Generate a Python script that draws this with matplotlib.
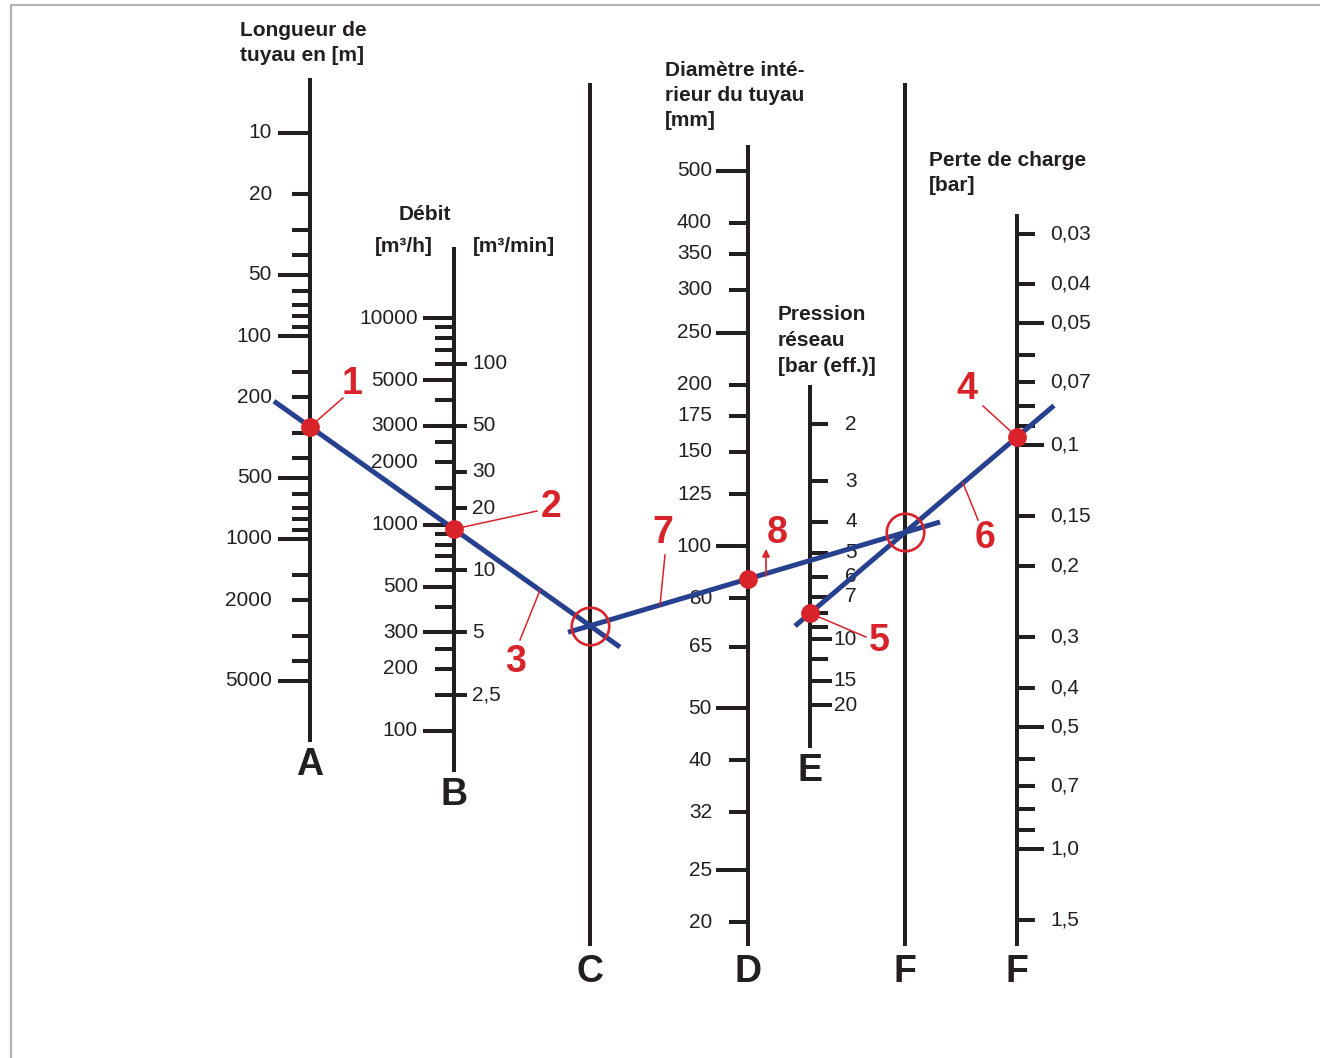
import numpy as np
import matplotlib
matplotlib.use("Agg")
import matplotlib.pyplot as plt

plt.rcParams['font.family'] = ['Liberation Sans', 'DejaVu Sans']

# ---------------- data ----------------
# A : pipe length [m]
A_ticks = [10, 20, 30, 40, 50, 60, 70, 80, 90, 100, 150, 200, 300, 400, 500,
           600, 700, 800, 900, 1000, 1500, 2000, 3000, 4000, 5000]
A_labels = [10, 20, 50, 100, 200, 500, 1000, 2000, 5000]
A_long = [10, 50, 100, 500, 1000, 5000]

# B : flow [m3/h] (left) and [m3/min] (right)
B_h_ticks = [100, 150, 200, 250, 300, 400, 500, 600, 700, 800, 900, 1000, 1500,
             2000, 2500, 3000, 4000, 5000, 6000, 7000, 8000, 9000, 10000]
B_h_labels = [100, 200, 300, 500, 1000, 2000, 3000, 5000, 10000]
B_h_long = [100, 300, 500, 1000, 3000, 5000, 10000]
B_min_labels = [2.5, 5, 10, 20, 30, 50, 100]
B_min_text = ['2,5', '5', '10', '20', '30', '50', '100']

# D : inner pipe diameter [mm]
D_ticks = [20, 25, 32, 40, 50, 65, 80, 100, 125, 150, 175, 200, 250, 300, 350, 400, 500]
D_long = [25, 50, 100, 250, 500]

# E : network pressure [bar (eff.)]
E_ticks = [2, 3, 4, 5, 6, 7, 8, 9, 10, 12, 15, 20]
E_labels = [2, 3, 4, 5, 6, 7, 10, 15, 20]

# F : pressure drop [bar]
F_ticks = [0.03, 0.04, 0.05, 0.06, 0.07, 0.08, 0.09, 0.1, 0.15, 0.2, 0.3, 0.4,
           0.5, 0.6, 0.7, 0.8, 0.9, 1.0, 1.5]
F_labels = [0.03, 0.04, 0.05, 0.07, 0.1, 0.15, 0.2, 0.3, 0.4, 0.5, 0.7, 1.0, 1.5]
F_text = ['0,03', '0,04', '0,05', '0,07', '0,1', '0,15', '0,2', '0,3', '0,4',
          '0,5', '0,7', '1,0', '1,5']
F_long = [0.05, 0.1, 0.5, 1.0]

# worked example
ex_length = 280     # m
ex_flow = 950       # m3/h
ex_diam = 87        # mm
ex_press = 8        # bar (eff.)

# ---------------- scale geometry (pixel frame) ----------------
xA, xB, xC, xD, xE, xF1, xF2 = 310, 454, 590, 748, 810, 905, 1017

def yA(v):
    return 133 + 203 * (np.log10(v) - 1)

def yB(v):
    return 731 - 206.5 * (np.log10(v) - 2)

def yD(v):
    return 170.7 + 537.5 * (np.log10(500) - np.log10(v))

def yE(v):
    u = np.log10(np.asarray(v, dtype=float) + 1)
    return 156.8 + 643.4 * u - 173.0 * u ** 2

def yF(v):
    return 848.6 + 403.9 * np.log10(v)

INK = '#231f20'
BLUE = '#27408f'
RED = '#d9232b'
LW = 2.9
FS = 15
HFS = 15

fig = plt.figure(figsize=(13.2, 10.58), dpi=100)
ax = fig.add_axes([0, 0, 1, 1])
ax.set_xlim(0, 1320)
ax.set_ylim(1058, 0)
ax.axis('off')

# frame
ax.plot([11, 11, 1320], [1058, 5, 5], color='#b3b3b3', lw=1.6, solid_capstyle='butt')

def vaxis(x, y0, y1, letter, ly):
    ax.plot([x, x], [y0, y1], color=INK, lw=LW, solid_capstyle='butt', zorder=2)
    ax.text(x, ly, letter, ha='center', va='center', fontsize=27,
            fontweight='bold', color=INK)

def ticks(x, ys, x0, x1):
    for y in np.atleast_1d(ys):
        ax.plot([x0, x1], [y, y], color=INK, lw=LW, solid_capstyle='butt', zorder=2)

def labels(xs, ys, texts, ha):
    for y, t in zip(ys, texts):
        ax.text(xs, y, t, ha=ha, va='center', fontsize=FS, color=INK, zorder=2)

def header(x, y, lines, ha='left', step=25.5):
    for i, line in enumerate(lines):
        ax.text(x, y + i * step, line, ha=ha, va='center', fontsize=HFS,
                fontweight='bold', color=INK)

# ---- A ----
vaxis(xA, 78, 742, 'A', 765)
for v in A_ticks:
    ticks(xA, yA(v), xA - (32 if v in A_long else 18), xA)
labels(272, yA(np.array(A_labels)), [str(v) for v in A_labels], 'right')
header(240, 30, ['Longueur de', 'tuyau en [m]'])

# ---- B ----
vaxis(xB, 247, 772, 'B', 795)
for v in B_h_ticks:
    ticks(xB, yB(v), xB - (31 if v in B_h_long else 19), xB)
for v in B_min_labels:
    ticks(xB, yB(v * 60), xB, xB + 13)
labels(418, yB(np.array(B_h_labels)), [str(v) for v in B_h_labels], 'right')
labels(472, yB(np.array(B_min_labels) * 60), B_min_text, 'left')
header(425, 214, ['Débit'], ha='center')
header(404, 246, ['[m³/h]'], ha='center')
header(514, 246, ['[m³/min]'], ha='center')

# ---- C ----
vaxis(xC, 83, 946, 'C', 972)

# ---- D ----
vaxis(xD, 145, 946, 'D', 972)
for v in D_ticks:
    ticks(xD, yD(v), xD - (32 if v in D_long else 19), xD)
labels(712, yD(np.array(D_ticks)), [str(v) for v in D_ticks], 'right')
header(665, 70, ['Diamètre inté-', 'rieur du tuyau', '[mm]'])

# ---- E ----
vaxis(xE, 385, 748, 'E', 771)
for v in E_ticks:
    ticks(xE, yE(v), xE, xE + (22 if v in (10, 15, 20) else 18))
labels(857, yE(np.array(E_labels)), [str(v) for v in E_labels], 'right')
header(778, 315, ['Pression', 'réseau', '[bar (eff.)]'])

# ---- F (reference) ----
vaxis(xF1, 83, 946, 'F', 972)

# ---- F (pressure drop) ----
vaxis(xF2, 214, 946, 'F', 972)
for v in F_ticks:
    ticks(xF2, yF(v), xF2, xF2 + (27 if v in F_long else 18))
labels(1050, yF(np.array(F_labels)), F_text, 'left')
header(929, 160, ['Perte de charge', '[bar]'])

# ---------------- worked example ----------------
pA = np.array([xA, yA(ex_length)])
pB = np.array([xB, yB(ex_flow)])
s1 = (pB[1] - pA[1]) / (pB[0] - pA[0])
pC = np.array([xC, pB[1] + s1 * (xC - xB)])
pD = np.array([xD, yD(ex_diam)])
s2 = (pD[1] - pC[1]) / (pD[0] - pC[0])
pF1 = np.array([xF1, pD[1] + s2 * (xF1 - xD)])
pE = np.array([xE, yE(ex_press)])
s3 = (pF1[1] - pE[1]) / (pF1[0] - pE[0])
pF2 = np.array([xF2, pF1[1] + s3 * (xF2 - xF1)])

def seg(p, s, xa, xb):
    return [xa, xb], [p[1] + s * (xa - p[0]), p[1] + s * (xb - p[0])]

blw = 3.6
xs, ys = seg(pA, s1, xA - 36, xC + 30)
ax.plot(xs, ys, color=BLUE, lw=blw, solid_capstyle='butt', zorder=4)
xs, ys = seg(pC, s2, xC - 22, xF1 + 35)
ax.plot(xs, ys, color=BLUE, lw=blw, solid_capstyle='butt', zorder=4)
xs, ys = seg(pE, s3, xE - 15, xF2 + 37)
ax.plot(xs, ys, color=BLUE, lw=blw, solid_capstyle='butt', zorder=4)

# red dots and circles
for p in (pA, pB, pD, pE, pF2):
    ax.plot(p[0], p[1], 'o', ms=13.5, color=RED, mec='none', zorder=5)
for p in (pC, pF1):
    ax.plot(p[0], p[1], 'o', ms=27, mfc='none', mec=RED, mew=1.9, zorder=5)

# numbered callouts
def callout(num, tx, ty, lx0, ly0, lx1, ly1):
    ax.plot([lx0, lx1], [ly0, ly1], color=RED, lw=1.1, zorder=5)
    ax.text(tx, ty, num, ha='center', va='center', fontsize=27,
            fontweight='bold', color=RED, zorder=6)

callout('1', 352, 384, pA[0], pA[1], 343, 398)
callout('2', 551, 507, pB[0], pB[1], 537, 511)
x3 = 540
callout('3', 516, 662, x3, pA[1] + s1 * (x3 - xA), 520, 640)
x7 = 660
callout('7', 663, 533, x7, pC[1] + s2 * (x7 - xC), 665, 555)
callout('5', 879, 641, pE[0], pE[1], 866, 637)
x6 = 963
callout('6', 985, 538, x6, pE[1] + s3 * (x6 - xE), 978, 520)
callout('4', 967, 389, pF2[0], pF2[1], 983, 406)
ax.text(777, 533, '8', ha='center', va='center', fontsize=27,
        fontweight='bold', color=RED, zorder=6)
ax.annotate('', xy=(pD[0] + 18, pD[1] - 30), xytext=(pD[0] + 18, pD[1] - 3),
            arrowprops=dict(arrowstyle='-|>', color=RED, lw=1.2,
                            mutation_scale=11, shrinkA=0, shrinkB=0), zorder=6)

fig.savefig('out.png', dpi=100)
